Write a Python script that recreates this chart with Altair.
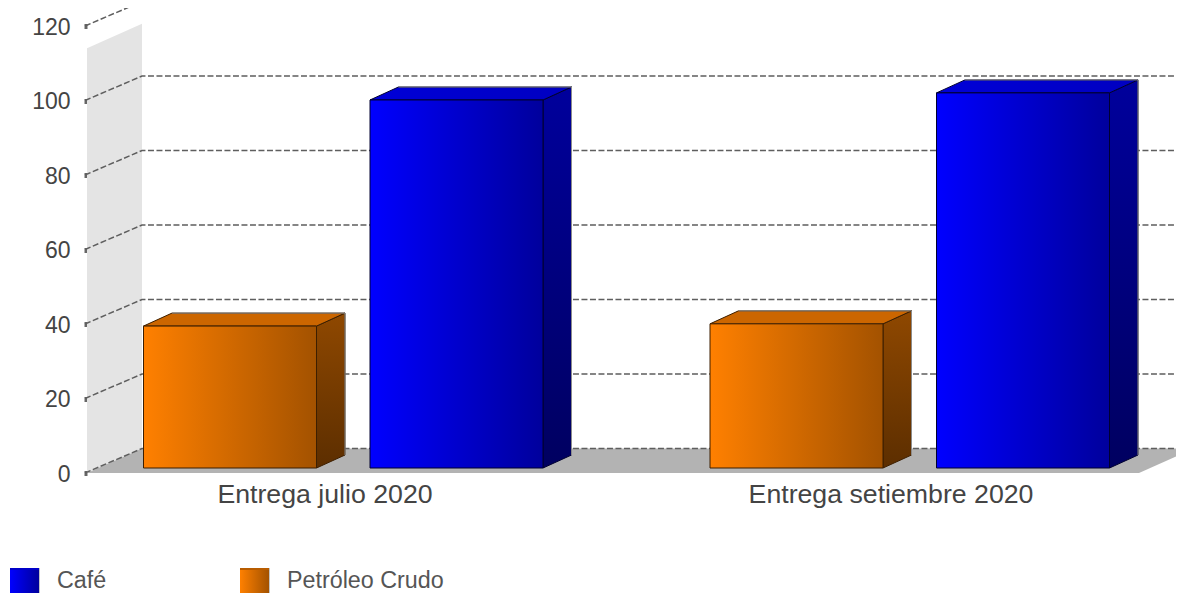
import altair as alt
import pandas as pd

# ---- values ----
categories = ["Entrega julio 2020", "Entrega setiembre 2020"]
series_names = ["Petróleo Crudo", "Café"]
petroleo = [38.1, 38.7]
cafe = [98.8, 100.7]
y_ticks = [0, 20, 40, 60, 80, 100, 120]

# ---- layout ----
W, H = 1168, 585
PX = 3.725            # pixels per value unit
Y0 = 473              # page y of value 0 on the front plane
def v(page_y):        # page y -> value scale
    return (Y0 - page_y) / PX
x_scale = alt.Scale(domain=[8, 8 + W], range=[0, W], nice=False, zero=False)
y_scale = alt.Scale(domain=[v(8 + H), v(8)], range=[H, 0], nice=False, zero=False)
WALL_L, WALL_R, DEPTH = 87, 142, 24.5 / PX
X_END = 1139
BAR_W, BAR_DX, BAR_DV, BAR_BASE = 173, 28.5, 13 / PX, 5 / PX
BAR_X0, SERIES_STEP, GROUP_STEP = 143.5, 226.5, 566.5
FONT = "Liberation Sans"

y_axis = alt.Axis(
    values=y_ticks, orient="left", offset=-(WALL_L - 8), domain=False, grid=False,
    tickSize=3, tickWidth=5, tickColor="#666666", labelPadding=14, labelOffset=1,
    labelFont=FONT, labelFontSize=23, labelColor="#444444", title=None)

def X(f="x", **k):
    return alt.X(f"{f}:Q", scale=x_scale, axis=None, **k)
def Y(f="y", **k):
    return alt.Y(f"{f}:Q", scale=y_scale, axis=y_axis, title=None, **k)
X2 = alt.X2("x2:Q")
Y2 = alt.Y2("y2:Q")

def grad(c1, c2, horizontal=True):
    return alt.LinearGradient(
        gradient="linear",
        stops=[alt.GradientStop(offset=0, color=c1), alt.GradientStop(offset=1, color=c2)],
        x1=0, y1=0, x2=1 if horizontal else 0, y2=0 if horizontal else 1,
    )

layers = []

# side wall
wall = pd.DataFrame({"x": [WALL_L, WALL_R], "y": [0, DEPTH], "y2": [114, 114 + DEPTH]})
layers.append(alt.Chart(wall).mark_area(color="#e4e4e4").encode(x=X(), y=Y(), y2=Y2))

# floor
floor = pd.DataFrame({"y": [0, DEPTH], "x": [WALL_L, WALL_R], "x2": [X_END, X_END + WALL_R - WALL_L]})
layers.append(
    alt.Chart(floor).mark_area(color="#b3b3b3", orient="horizontal").encode(x=X(), x2=X2, y=Y())
)

# dashed grid running along wall and back plane
grid_rows = []
for t in y_ticks:
    grid_rows += [
        {"t": t, "o": 0, "x": WALL_L - 2, "y": t},
        {"t": t, "o": 1, "x": WALL_R, "y": t + DEPTH},
        {"t": t, "o": 2, "x": 8 + W, "y": t + DEPTH},
    ]
layers.append(
    alt.Chart(pd.DataFrame(grid_rows)).mark_line(color="#5e5e5e", strokeWidth=1.5, strokeDash=[6, 2.5]).encode(
        x=X(), y=Y(), detail="t:N", order="o:Q"
    )
)

# 3D bars
styles = [
    dict(front=("#ff8000", "#a35200"), top=("#cc6600", "#cc6600"), side=("#8f4800", "#5c2e00"), edge="#3d1f00"),
    dict(front=("#0000ff", "#00009c"), top=("#0000d8", "#0000c0"), side=("#00009c", "#000060"), edge="#000030"),
]
for s, vals in enumerate([petroleo, cafe]):
    st = styles[s]
    for i, val in enumerate(vals):
        xl = BAR_X0 + i * GROUP_STEP + s * SERIES_STEP
        xr = xl + BAR_W
        base = BAR_BASE
        vt = val + base
        side = pd.DataFrame({"x": [xr, xr + BAR_DX], "y": [vt, vt + BAR_DV], "y2": [base, base + BAR_DV]})
        layers.append(
            alt.Chart(side).mark_area(fill=grad(*st["side"], horizontal=False), stroke=st["edge"], strokeWidth=1).encode(
                x=X(), y=Y(), y2=Y2)
        )
        topf = pd.DataFrame({"y": [vt, vt + BAR_DV], "x": [xl, xl + BAR_DX], "x2": [xr, xr + BAR_DX]})
        layers.append(
            alt.Chart(topf).mark_area(fill=grad(*st["top"]), stroke=st["edge"], strokeWidth=1, orient="horizontal").encode(
                x=X(), x2=X2, y=Y())
        )
        back = pd.DataFrame({
            "o": [0, 1, 2],
            "x": [xl + BAR_DX, xr + BAR_DX, xr + BAR_DX],
            "y": [vt + BAR_DV, vt + BAR_DV, base + BAR_DV],
        })
        layers.append(
            alt.Chart(back).mark_line(color="#8c8c8c", strokeWidth=1).encode(x=X(), y=Y(), order="o:Q")
        )
        front = pd.DataFrame({"x": [xl], "x2": [xr], "y": [vt], "y2": [base]})
        layers.append(
            alt.Chart(front).mark_rect(fill=grad(*st["front"]), stroke=st["edge"], strokeWidth=1).encode(
                x=X(), x2=X2, y=Y(), y2=Y2)
        )

# category labels
labels = pd.DataFrame({"label": categories, "x": [325, 891], "y": [v(503), v(503)]})
layers.append(
    alt.Chart(labels).mark_text(font=FONT, fontSize=26.7, color="#444444", align="center", baseline="alphabetic").encode(
        x=X(), y=Y(), text="label:N")
)

# legend
leg_x = {"Café": 10, "Petróleo Crudo": 240}
leg_c = {"Café": ("#0000ff", "#00009c"), "Petróleo Crudo": ("#ff8000", "#a35200")}
leg_top = {"Café": "#0000c8", "Petróleo Crudo": "#b85c00"}
for name in ["Café", "Petróleo Crudo"]:
    lx = leg_x[name]
    sw = pd.DataFrame({"x": [lx], "x2": [lx + 29], "y": [v(568)], "y2": [v(598)]})
    layers.append(alt.Chart(sw).mark_rect(fill=grad(*leg_c[name])).encode(x=X(), x2=X2, y=Y(), y2=Y2))
    strip = pd.DataFrame({"x": [lx], "x2": [lx + 29], "y": [v(568)], "y2": [v(570)]})
    layers.append(alt.Chart(strip).mark_rect(fill=leg_top[name]).encode(x=X(), x2=X2, y=Y(), y2=Y2))
    edge = pd.DataFrame({"x": [lx + 29], "x2": [lx + 30], "y": [v(568)], "y2": [v(598)]})
    layers.append(alt.Chart(edge).mark_rect(fill="#c4c4c4").encode(x=X(), x2=X2, y=Y(), y2=Y2))
    tx = pd.DataFrame({"label": [name], "x": [lx + 47], "y": [v(588)]})
    layers.append(
        alt.Chart(tx).mark_text(font=FONT, fontSize=23.3, color="#555555", align="left", baseline="alphabetic").encode(
            x=X(), y=Y(), text="label:N")
    )

chart = alt.layer(*layers).properties(
    width=W, height=H, autosize=alt.AutoSizeParams(type="none"), padding=0, background="white"
).configure_view(stroke=None)

chart.save("out.html", embed_options={"renderer": "svg", "actions": False})
